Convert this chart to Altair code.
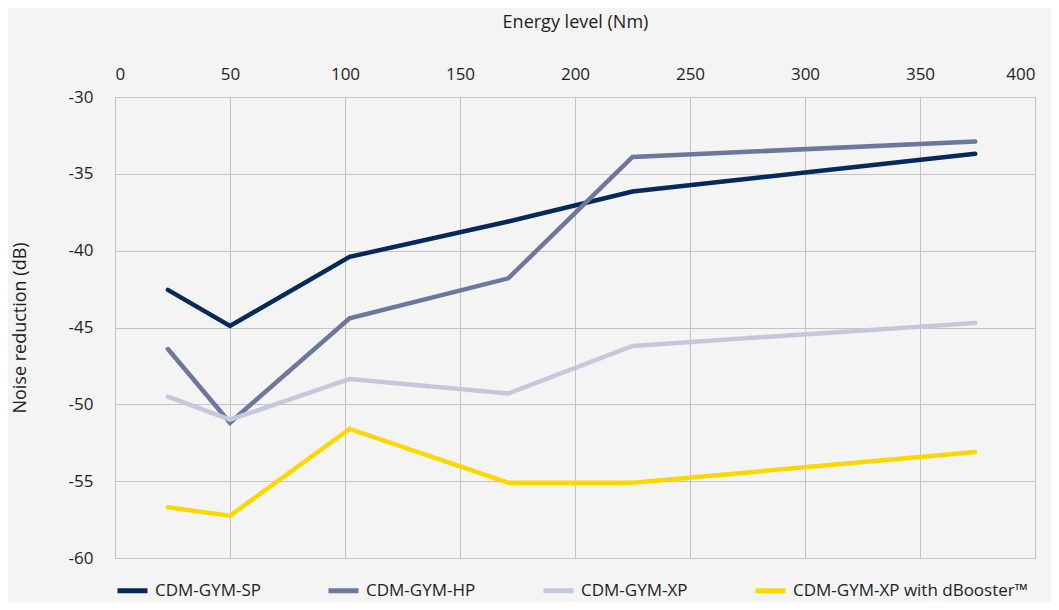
import altair as alt
import pandas as pd

energy = [23, 50, 102, 171, 225, 374]
series_names = ["CDM-GYM-SP", "CDM-GYM-HP", "CDM-GYM-XP", "CDM-GYM-XP with dBooster™"]
sp = [-42.55, -44.9, -40.4, -38.1, -36.15, -33.7]
hp = [-46.4, -51.2, -44.4, -41.8, -33.9, -32.9]
xp = [-49.5, -51.0, -48.35, -49.3, -46.2, -44.7]
xpdb = [-56.7, -57.25, -51.6, -55.1, -55.1, -53.1]
colors = ["#04295a", "#6b779d", "#c4c8db", "#ffd700"]

x_ticks = [0, 50, 100, 150, 200, 250, 300, 350, 400]
y_ticks = [-60, -55, -50, -45, -40, -35, -30]

rows = []
for name, vals in zip(series_names, [sp, hp, xp, xpdb]):
    for i, (e, v) in enumerate(zip(energy, vals)):
        rows.append({"series": name, "energy": e, "db": v, "order": i})
df = pd.DataFrame(rows)

FONT = "Open Sans"

chart = alt.Chart(df).mark_line(strokeWidth=4.5, strokeCap="round", strokeJoin="miter").encode(
    x=alt.X("energy:Q",
            scale=alt.Scale(domain=[0, 400], nice=False, zero=False),
            axis=alt.Axis(orient="top", values=x_ticks, title="Energy level (Nm)",
                          ticks=False, domain=False, labelPadding=14, titlePadding=34,
                          labelExpr="'' + datum.value", grid=True)),
    y=alt.Y("db:Q",
            scale=alt.Scale(domain=[-60, -30], nice=False, zero=False),
            axis=alt.Axis(values=y_ticks, title="Noise reduction (dB)",
                          ticks=False, domain=False, labelPadding=22, titlePadding=39,
                          labelExpr="'' + datum.value", grid=True)),
    color=alt.Color("series:N",
                    scale=alt.Scale(domain=series_names, range=colors),
                    legend=alt.Legend(title=None, orient="none", direction="horizontal",
                                      columns=4, legendX=0, legendY=476,
                                      symbolType="stroke", symbolSize=900,
                                      symbolStrokeWidth=5, columnPadding=57,
                                      labelOffset=5)),
    order="order:Q",
).properties(
    width=920, height=461,
    background="#f4f4f4",
    autosize=alt.AutoSizeParams(type="none"),
    padding={"left": 107, "top": 89, "right": 16, "bottom": 44},
).configure_axis(
    labelFont=FONT, titleFont=FONT, labelFontSize=17, titleFontSize=18,
    labelColor="#1e1e1e", titleColor="#1e1e1e", titleFontWeight="normal",
    gridColor="#c3c3c3", gridWidth=1, gridOpacity=1,
).configure_legend(
    labelFont=FONT, labelFontSize=17, labelColor="#1e1e1e", labelLimit=400,
).configure_view(stroke=None)

chart.save("out.html", embed_options={"renderer": "svg", "actions": False})
